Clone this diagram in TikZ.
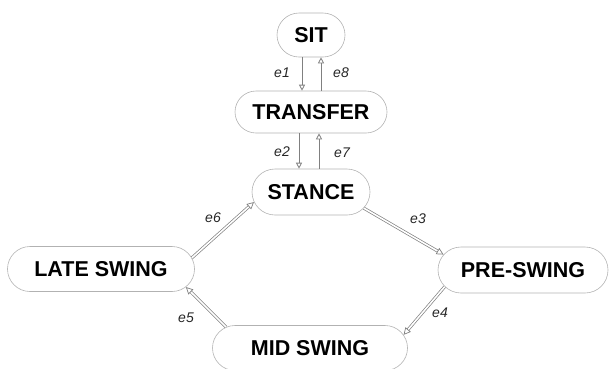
\documentclass[tikz,border=0pt]{standalone}
\usepackage{fontspec}
\setmainfont{Liberation Sans}
\usetikzlibrary{shapes.misc,arrows.meta}
\begin{document}
\begin{tikzpicture}[x=1pt,y=-1pt,
  state/.style={rounded rectangle, draw=gray!60, line width=0.6pt, inner sep=0pt,
    font=\fontsize{21.5}{25}\selectfont\bfseries, text=black},
  conn/.style={draw=black!50, line width=0.7pt, double=white, double distance=1.6pt,
    -{Triangle[open,length=7pt,width=7pt]}},
  vconn/.style={draw=black!50, line width=0.8pt,
    -{Triangle[open,length=6pt,width=6pt]}},
  elab/.style={font=\fontsize{14}{16}\selectfont\itshape, text=black!85, inner sep=0pt}]
\useasboundingbox (0,0) rectangle (610,368);
\begin{scope}
\clip (0,0) rectangle (610,368);
\node[state, minimum width=68pt, minimum height=44pt] (sit) at (311,35) {SIT};
\node[state, minimum width=152pt, minimum height=42pt] (transfer) at (311,112) {TRANSFER};
\node[state, minimum width=118pt, minimum height=46pt] (stance) at (311,192) {STANCE};
\node[state, minimum width=187pt, minimum height=45pt] (late) at (101,269) {LATE SWING};
\node[state, minimum width=170pt, minimum height=46pt] (pre) at (523,270) {PRE-SWING};
\node[state, minimum width=195pt, minimum height=45pt] (mid) at (310,348) {MID SWING};
\end{scope}
% vertical connectors
\draw[vconn] ([xshift=-9pt]sit.south) -- ([xshift=-9pt]transfer.north);
\draw[vconn] ([xshift=10pt]transfer.north) -- ([xshift=10pt]sit.south);
\draw[vconn] ([xshift=-12pt]transfer.south) -- ([xshift=-12pt]stance.north);
\draw[vconn] ([xshift=8pt]stance.north) -- ([xshift=8pt]transfer.south);
% cycle connectors
\draw[conn] (stance.-17) -- (pre.169);
\draw[conn] (pre.192) -- (mid.8);
\draw[conn] (mid.166) -- (late.-12);
\draw[conn] (late.7) -- (stance.190);
% labels
\node[elab] (l1) at (282,73) {e1};
\node[elab] (l8) at (341,73) {e8};
\node[elab] (l2) at (282,152) {e2};
\node[elab] (l7) at (342,153) {e7};
\node[elab] (l6) at (213,218) {e6};
\node[elab] (l3) at (418,219) {e3};
\node[elab] (l5) at (186,318) {e5};
\node[elab] (l4) at (440,313) {e4};
\end{tikzpicture}
\end{document}
